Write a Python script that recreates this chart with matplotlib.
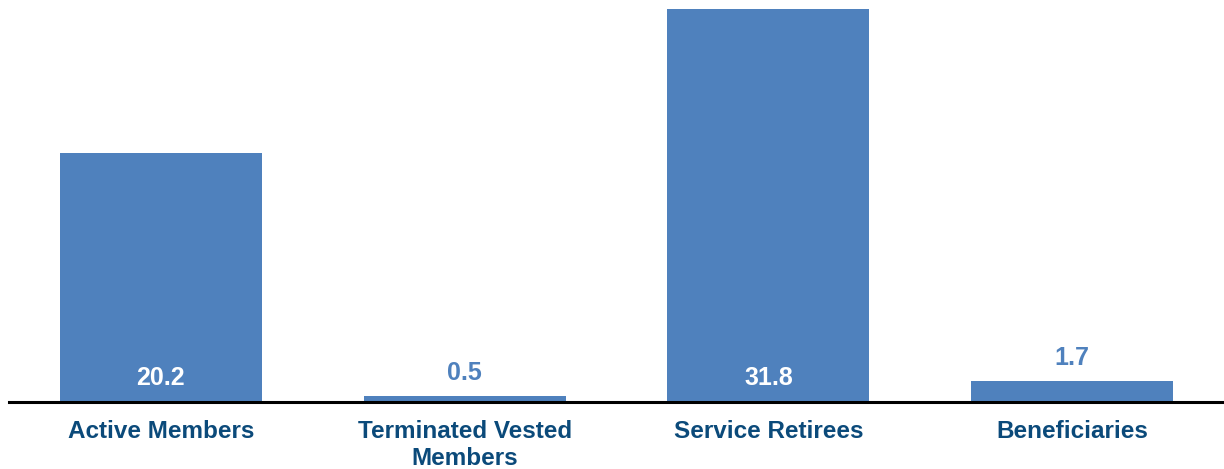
import matplotlib.pyplot as plt

categories = ['Active Members', 'Terminated Vested\nMembers', 'Service Retirees', 'Beneficiaries']
values = [20.2, 0.5, 31.8, 1.7]
labels = ['20.2', '0.5', '31.8', '1.7']

bar_color = '#4F81BD'
text_color = '#0B4A7A'

plt.rcParams['font.family'] = ['Liberation Sans', 'DejaVu Sans']

fig = plt.figure(figsize=(12.24, 4.69), dpi=100)
ax = fig.add_axes([9 / 1224, 67 / 469, 1215 / 1224, 402 / 469])

x = range(len(categories))
bars = ax.bar(x, values, width=0.665, color=bar_color)

for xi, v, lab in zip(x, values, labels):
    if v > 5:
        ax.annotate(lab, (xi, 0), xytext=(0, 17), textcoords='offset points',
                    ha='center', va='center', color='white',
                    fontsize=18, fontweight='bold')
    else:
        ax.annotate(lab, (xi, v), xytext=(0, 8), textcoords='offset points',
                    ha='center', va='bottom', color=bar_color,
                    fontsize=18, fontweight='bold')

ax.set_xlim(-0.5, 3.5)
ax.set_ylim(0, 32.55)
ax.set_xticks(list(x))
ax.set_xticklabels(categories, fontsize=17.5, fontweight='bold', color=text_color,
                   linespacing=1.2)
ax.tick_params(axis='x', length=0, pad=13)
ax.set_yticks([])
for side in ['top', 'right', 'left']:
    ax.spines[side].set_visible(False)
ax.spines['bottom'].set_linewidth(2.2)
ax.spines['bottom'].set_color('black')

fig.savefig('out.png', dpi=100)
